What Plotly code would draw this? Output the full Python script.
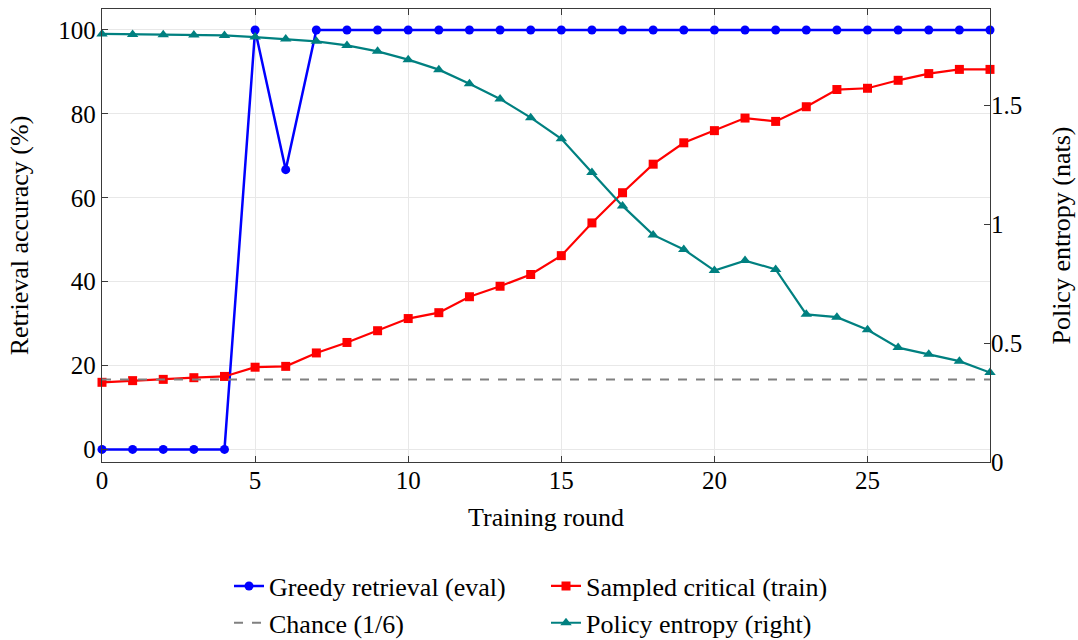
import plotly.graph_objects as go

rounds = list(range(30))
greedy_retrieval = [0, 0, 0, 0, 0, 100, 66.7, 100, 100, 100, 100, 100, 100, 100, 100,
                    100, 100, 100, 100, 100, 100, 100, 100, 100, 100, 100, 100, 100, 100, 100]
sampled_critical = [16.0, 16.4, 16.7, 17.1, 17.4, 19.6, 19.8, 23.0, 25.5, 28.3, 31.2, 32.6, 36.4, 38.9, 41.7,
                    46.2, 54.0, 61.2, 68.0, 73.1, 76.0, 79.0, 78.2, 81.7, 85.8, 86.1, 88.0, 89.6, 90.6, 90.6]
policy_entropy = [1.800, 1.798, 1.797, 1.796, 1.794, 1.787, 1.779, 1.769, 1.752, 1.727, 1.692, 1.650, 1.591,
                  1.527, 1.448, 1.359, 1.217, 1.077, 0.955, 0.894, 0.805, 0.847, 0.810, 0.621, 0.609,
                  0.556, 0.481, 0.453, 0.424, 0.376]
chance_x = [0, 29]
chance_value = 100 / 6

left_ticks = [0, 20, 40, 60, 80, 100]
right_ticks = [0, 0.5, 1, 1.5]
right_tick_labels = ["0", "0.5", "1", "1.5"]
x_ticks = [0, 5, 10, 15, 20, 25]

FONT = "Liberation Serif"
AX = "#3a3a3a"
GRID = "#e8e8e8"
TXT = 26
TICK = 25

fig = go.Figure()
fig.add_trace(go.Scatter(x=rounds, y=greedy_retrieval, name="Greedy retrieval (eval)",
                         mode="lines+markers", line=dict(color="#0000ff", width=2.5),
                         marker=dict(symbol="circle", size=9, color="#0000ff"), cliponaxis=False))
fig.add_trace(go.Scatter(x=rounds, y=sampled_critical, name="Sampled critical (train)",
                         mode="lines+markers", line=dict(color="#ff0000", width=2.2),
                         marker=dict(symbol="square", size=9, color="#ff0000"), cliponaxis=False))
fig.add_trace(go.Scatter(x=chance_x, y=[chance_value, chance_value], name="Chance (1/6)",
                         mode="lines", line=dict(color="#808080", width=2, dash="dash"), cliponaxis=False))
fig.add_trace(go.Scatter(x=rounds, y=policy_entropy, name="Policy entropy (right)", yaxis="y2",
                         mode="lines+markers", line=dict(color="#008080", width=2.2),
                         marker=dict(symbol="triangle-up", size=10, color="#008080"), cliponaxis=False))

fig.update_layout(
    width=1078, height=640,
    margin=dict(l=102, r=88, t=9, b=178, autoexpand=False),
    paper_bgcolor="white", plot_bgcolor="white",
    font=dict(family=FONT, size=TXT, color="black"),
    showlegend=True,
    legend=dict(orientation="h", x=0.5, xanchor="center", y=-0.222, yanchor="top",
                entrywidth=272, entrywidthmode="pixels", font=dict(size=TXT, family=FONT),
                bgcolor="rgba(0,0,0,0)", tracegroupgap=0),
    xaxis=dict(range=[0, 29], tickvals=x_ticks, showgrid=True, gridcolor=GRID, gridwidth=1,
               showline=True, linecolor=AX, linewidth=1.3, mirror="ticks", ticks="inside",
               ticklen=6, tickcolor=AX, zeroline=False, ticklabelstandoff=-4,
               title=dict(text="Training round", standoff=14, font=dict(size=TXT, family=FONT)),
               tickfont=dict(size=TICK, family=FONT)),
    yaxis=dict(range=[-3, 105], tickvals=left_ticks, showgrid=True, gridcolor=GRID, gridwidth=1,
               showline=True, linecolor=AX, linewidth=1.3, mirror=True, ticks="inside",
               ticklen=6, tickcolor=AX, zeroline=False,
               title=dict(text="Retrieval accuracy (%)", standoff=22, font=dict(size=TXT, family=FONT)),
               tickfont=dict(size=TICK, family=FONT)),
    yaxis2=dict(range=[0, 1.905], overlaying="y", side="right", tickvals=right_ticks,
                ticktext=right_tick_labels, showgrid=False, showline=False, ticks="inside",
                ticklen=6, tickcolor=AX, zeroline=False,
                title=dict(text="Policy entropy (nats)", standoff=30, font=dict(size=TXT, family=FONT)),
                tickfont=dict(size=TICK, family=FONT)),
)

fig.write_html("out.html", config={"displayModeBar": False},
               post_script="document.body.style.margin='0';document.body.style.overflow='hidden';")
